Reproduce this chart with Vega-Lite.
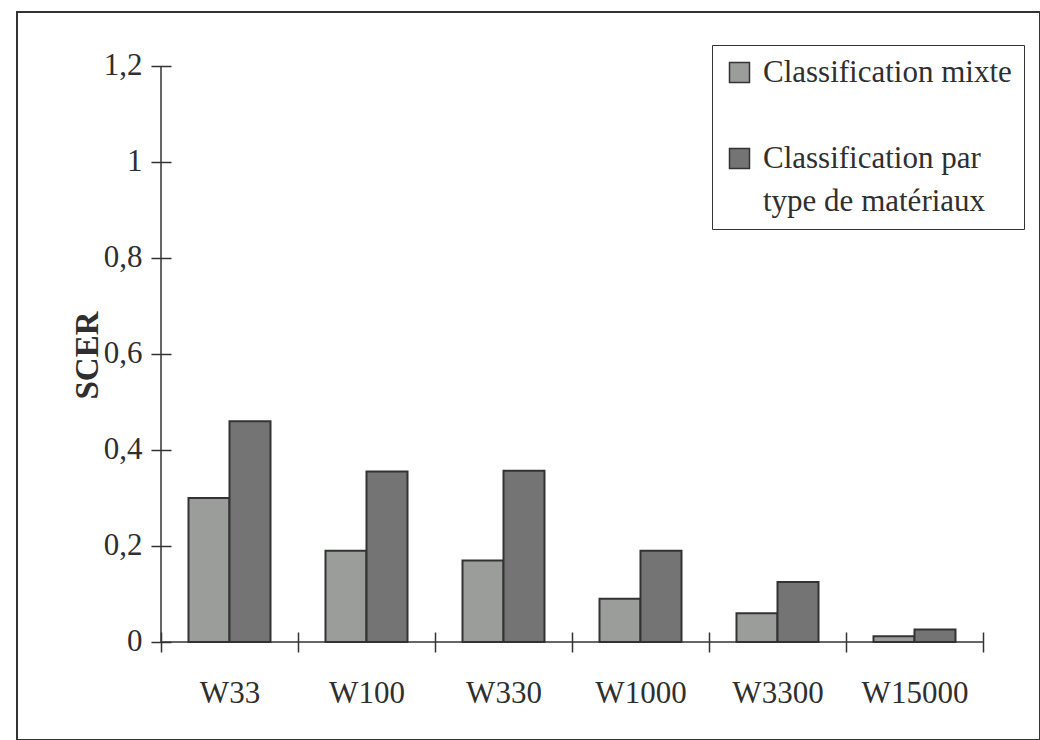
{
  "$schema": "https://vega.github.io/schema/vega-lite/v6.json",
  "width": 1023,
  "height": 728,
  "autosize": {"type": "none"},
  "padding": {"left": 17, "top": 12, "right": 0, "bottom": 0},
  "background": "white",
  "config": {
    "view": {"stroke": "#333333", "strokeWidth": 2},
    "font": "Liberation Serif"
  },
  "data": {
    "values": [
      {"config": "W33", "classification": "Classification mixte", "SCER": 0.30},
      {"config": "W33", "classification": "Classification par type de matériaux", "SCER": 0.46},
      {"config": "W100", "classification": "Classification mixte", "SCER": 0.19},
      {"config": "W100", "classification": "Classification par type de matériaux", "SCER": 0.355},
      {"config": "W330", "classification": "Classification mixte", "SCER": 0.17},
      {"config": "W330", "classification": "Classification par type de matériaux", "SCER": 0.357},
      {"config": "W1000", "classification": "Classification mixte", "SCER": 0.09},
      {"config": "W1000", "classification": "Classification par type de matériaux", "SCER": 0.19},
      {"config": "W3300", "classification": "Classification mixte", "SCER": 0.06},
      {"config": "W3300", "classification": "Classification par type de matériaux", "SCER": 0.125},
      {"config": "W15000", "classification": "Classification mixte", "SCER": 0.012},
      {"config": "W15000", "classification": "Classification par type de matériaux", "SCER": 0.026}
    ]
  },
  "layer": [
    {
      "mark": {"type": "bar", "stroke": "#333333", "strokeWidth": 2},
      "encoding": {
        "x": {
          "field": "config",
          "type": "nominal",
          "scale": {
            "domain": ["W33", "W100", "W330", "W1000", "W3300", "W15000"],
            "paddingInner": 0,
            "paddingOuter": 0.7336,
            "align": 0.7164
          },
          "axis": {
            "title": null,
            "domain": false,
            "grid": false,
            "tickBand": "extent",
            "offset": -88,
            "tickSize": -20,
            "tickColor": "#333333",
            "tickWidth": 1.5,
            "labelPadding": 46,
            "labelFont": "Liberation Serif",
            "labelFontSize": 31,
            "labelColor": "#2f2f2f",
            "labelAngle": 0
          }
        },
        "xOffset": {
          "field": "classification",
          "type": "nominal",
          "sort": ["Classification mixte", "Classification par type de matériaux"],
          "scale": {"paddingInner": 0, "paddingOuter": 0.6707}
        },
        "y": {
          "field": "SCER",
          "type": "quantitative",
          "scale": {"domain": [-0.20417, 1.3125], "nice": false, "zero": false},
          "axis": {
            "title": "SCER",
            "values": [0, 0.2, 0.4, 0.6, 0.8, 1, 1.2],
            "labelExpr": "replace(format(datum.value, '~g'), '.', ',')",
            "domain": false,
            "grid": false,
            "offset": -134,
            "tickSize": -20,
            "tickColor": "#333333",
            "tickWidth": 1.5,
            "labelPadding": 29,
            "labelFont": "Liberation Serif",
            "labelFontSize": 31,
            "labelColor": "#2f2f2f",
            "titleFont": "Liberation Serif",
            "titleFontSize": 33,
            "titleFontWeight": "bold",
            "titleColor": "#2f2f2f",
            "titleAngle": 270,
            "titleBaseline": "bottom",
            "titleX": -47,
            "titleY": 343
          }
        },
        "y2": {"datum": 0},
        "color": {
          "field": "classification",
          "type": "nominal",
          "sort": ["Classification mixte", "Classification par type de matériaux"],
          "scale": {"range": ["#9b9d9b", "#747474"]},
          "legend": {
            "title": null,
            "orient": "none",
            "legendX": 695,
            "legendY": 33,
            "strokeColor": "#333333",
            "fillColor": "white",
            "padding": 12,
            "symbolType": "square",
            "symbolSize": 400,
            "symbolStrokeColor": "#333333",
            "symbolStrokeWidth": 1.5,
            "labelFont": "Liberation Serif",
            "labelFontSize": 31,
            "labelColor": "#2f2f2f",
            "labelOffset": 8,
            "labelLimit": 400,
            "rowPadding": 54,
            "labelExpr": "datum.label == 'Classification par type de matériaux' ? ['Classification par', 'type de matériaux'] : datum.label",
            "encode": {"labels": {"update": {"lineHeight": {"value": 43}}}}
          }
        }
      }
    },
    {
      "data": {"values": [{}]},
      "mark": {"type": "rule", "stroke": "#333333", "strokeWidth": 1.5},
      "encoding": {
        "x": {"datum": "W33", "type": "nominal", "bandPosition": 0},
        "y": {"datum": 0, "type": "quantitative"},
        "y2": {"datum": 1.2}
      }
    },
    {
      "data": {"values": [{}]},
      "mark": {"type": "rule", "stroke": "#333333", "strokeWidth": 1.5},
      "encoding": {
        "x": {"datum": "W33", "type": "nominal", "bandPosition": 0},
        "x2": {"datum": "W15000", "bandPosition": 1},
        "y": {"datum": 0, "type": "quantitative"}
      }
    }
  ]
}
